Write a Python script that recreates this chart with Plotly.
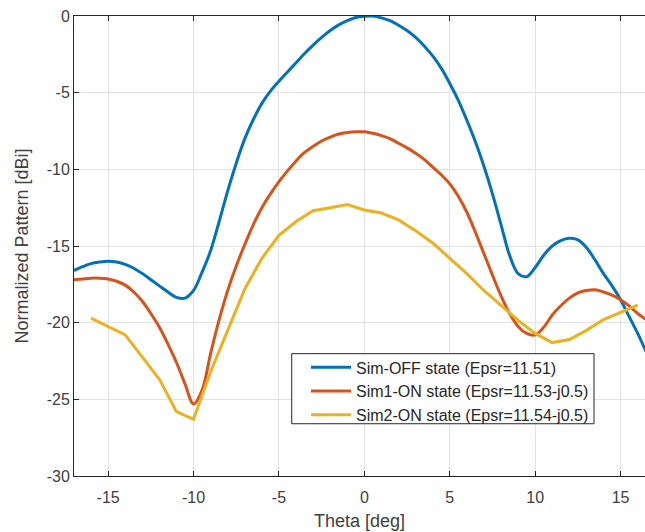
import plotly.graph_objects as go

# Sim-OFF (blue), 0.5 deg steps
theta_off = [-17, -16.5, -16, -15.5, -15, -14.5, -14, -13.5, -13, -12.5, -12, -11.5, -11, -10.5, -10, -9.5, -9, -8.5, -8, -7.5, -7, -6.5, -6, -5.5, -5, -4.5, -4, -3.5, -3, -2.5, -2, -1.5, -1, -0.5, 0, 0.5, 1, 1.5, 2, 2.5, 3, 3.5, 4, 4.5, 5, 5.5, 6, 6.5, 7, 7.5, 8, 8.5, 9, 9.5, 10, 10.5, 11, 11.5, 12, 12.5, 13, 13.5, 14, 14.5, 15, 15.5, 16, 16.5]
pat_off = [-16.6, -16.35, -16.15, -16.05, -16.0, -16.05, -16.2, -16.45, -16.8, -17.2, -17.6, -18.0, -18.35, -18.4, -17.9, -16.7, -15.3, -13.4, -11.4, -9.6, -8.0, -6.75, -5.7, -4.9, -4.25, -3.65, -3.05, -2.45, -1.9, -1.4, -0.95, -0.58, -0.3, -0.1, -0.02, 0.0, -0.12, -0.3, -0.6, -0.95, -1.4, -1.95, -2.6, -3.4, -4.4, -5.5, -6.8, -8.2, -9.8, -11.6, -13.6, -15.6, -16.8, -17.0, -16.4, -15.6, -15.0, -14.65, -14.5, -14.6, -15.1, -15.9, -16.8, -17.6, -18.5, -19.6, -20.7, -21.9]

# Sim1-ON (orange), 0.5 deg steps
theta_on1 = [-17, -16.5, -16, -15.5, -15, -14.5, -14, -13.5, -13, -12.5, -12, -11.5, -11, -10.5, -10, -9.5, -9, -8.5, -8, -7.5, -7, -6.5, -6, -5.5, -5, -4.5, -4, -3.5, -3, -2.5, -2, -1.5, -1, -0.5, 0, 0.5, 1, 1.5, 2, 2.5, 3, 3.5, 4, 4.5, 5, 5.5, 6, 6.5, 7, 7.5, 8, 8.5, 9, 9.5, 10, 10.5, 11, 11.5, 12, 12.5, 13, 13.5, 14, 14.5, 15, 15.5, 16, 16.5]
pat_on1 = [-17.2, -17.15, -17.1, -17.1, -17.15, -17.3, -17.55, -18.0, -18.6, -19.4, -20.3, -21.4, -22.6, -24.0, -25.3, -24.4, -22.0, -19.8, -17.9, -16.3, -14.9, -13.6, -12.5, -11.6, -10.8, -10.1, -9.45, -8.9, -8.5, -8.15, -7.9, -7.7, -7.6, -7.55, -7.55, -7.65, -7.8, -8.0, -8.3, -8.6, -8.95, -9.35, -9.85, -10.35, -10.95, -11.75, -12.8, -14.1, -15.5, -16.9, -18.25, -19.4, -20.25, -20.7, -20.8, -20.3, -19.5, -18.9, -18.4, -18.05, -17.9, -17.85, -18.0, -18.2, -18.5, -18.9, -19.4, -19.8]

# Sim2-ON (yellow), 1 deg steps
theta_on2 = [-16, -14, -12, -11, -10, -9, -8, -7, -6, -5, -4, -3, -2, -1, 0, 1, 2, 3, 4, 5, 6, 7, 8, 9, 10, 11, 12, 13, 14, 15, 16]
pat_on2 = [-19.7, -20.8, -23.7, -25.8, -26.3, -23.2, -20.5, -17.8, -15.8, -14.3, -13.4, -12.7, -12.5, -12.3, -12.65, -12.85, -13.3, -14.0, -14.8, -15.8, -16.8, -17.9, -18.9, -19.85, -20.7, -21.3, -21.1, -20.5, -19.8, -19.3, -18.85]

names = ["Sim-OFF state (Epsr=11.51)", "Sim1-ON state (Epsr=11.53-j0.5)", "Sim2-ON state (Epsr=11.54-j0.5)"]
colors = ["#0072BD", "#D95319", "#EDB120"]

x_ticks = [-15, -10, -5, 0, 5, 10, 15]
x_labels = ["-15", "-10", "-5", "0", "5", "10", "15"]
y_ticks = [0, -5, -10, -15, -20, -25, -30]
y_labels = ["0", "-5", "-10", "-15", "-20", "-25", "-30"]

fig = go.Figure()
fig.add_trace(go.Scatter(x=theta_off, y=pat_off, mode="lines", name=names[0],
                         line=dict(color=colors[0], width=3, shape="spline", smoothing=1.0)))
fig.add_trace(go.Scatter(x=theta_on1, y=pat_on1, mode="lines", name=names[1],
                         line=dict(color=colors[1], width=3, shape="spline", smoothing=1.0)))
fig.add_trace(go.Scatter(x=theta_on2, y=pat_on2, mode="lines", name=names[2],
                         line=dict(color=colors[2], width=3)))

# legend frame (drawn as a shape so its size matches the reference)
fig.add_shape(type="rect", xref="paper", yref="paper",
              x0=0.3813, x1=0.9107, y0=0.1136, y1=0.2659,
              fillcolor="white", line=dict(color="#262626", width=1), layer="above")

font_family = "Liberation Sans, Arial, Helvetica, sans-serif"
fig.update_layout(
    width=645, height=532,
    margin=dict(l=74, r=0, t=16, b=56, autoexpand=False),
    paper_bgcolor="white", plot_bgcolor="white",
    font=dict(family=font_family, color="#404040", size=15),
    showlegend=True,
    legend=dict(x=0.4063, y=0.2731, xanchor="left", yanchor="top",
                bgcolor="rgba(0,0,0,0)", borderwidth=0,
                font=dict(size=16, color="#262626"),
                tracegroupgap=0, itemwidth=40),
)
fig.update_xaxes(range=[-17, 16.43], tickvals=x_ticks, ticktext=x_labels, ticks="inside", ticklen=5,
                 tickcolor="#262626", showline=True, linecolor="#262626", linewidth=1,
                 mirror="ticks", showgrid=True, gridcolor="#e3e3e3", gridwidth=1,
                 zeroline=False, tickfont=dict(size=16), automargin=False, ticklabelstandoff=7,
                 title=dict(text="Theta [deg]", font=dict(size=18), standoff=9))
fig.update_yaxes(range=[-30, 0], tickvals=y_ticks, ticktext=y_labels, ticks="inside", ticklen=5,
                 tickcolor="#262626", showline=True, linecolor="#262626", linewidth=1,
                 mirror=False, showgrid=True, gridcolor="#e3e3e3", gridwidth=1,
                 zeroline=False, tickfont=dict(size=16), automargin=False,
                 title=dict(text="Normalized Pattern [dBi]", font=dict(size=18), standoff=13))

fig.write_html("out.html", config={"displayModeBar": False},
               post_script="document.body.style.margin='0px';document.body.style.overflow='hidden';")
